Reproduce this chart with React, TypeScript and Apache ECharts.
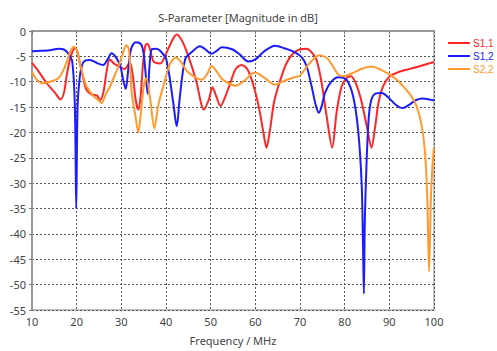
import React, { useEffect, useRef } from "react";
import * as echarts from "echarts";

const xTicks = [10, 20, 30, 40, 50, 60, 70, 80, 90, 100];
const yTicks = [0, -5, -10, -15, -20, -25, -30, -35, -40, -45, -50, -55];

const s11Freq = [10, 11.5, 13.3, 15, 16.4, 17.2, 17.8, 18.7, 19.6, 20.2, 20.7, 21.4, 22.2, 23.3, 24.5, 25.3, 26, 26.7, 27.4, 28.5, 30, 30.7, 31.9, 32.6, 33.2, 33.8, 34.3, 34.9, 35.4, 35.8, 36.4, 37.2, 38.7, 40, 41.3, 42.4, 43.8, 45.6, 46.8, 48.5, 49.6, 50.4, 51.3, 52.2, 53.2, 54.5, 55.6, 56.9, 58.2, 59.5, 60.8, 61.8, 62.5, 63.2, 64.2, 65.5, 67, 68.5, 70, 71.5, 72.7, 73.7, 74.8, 76, 77.2, 78.2, 79.3, 80.4, 81.4, 82.6, 83.8, 85, 86, 86.8, 87.6, 88.6, 90, 91.5, 93.5, 95.4, 97, 98.4, 100];
const s11Db = [-6.3, -8, -10.3, -12, -13.5, -12, -8.6, -5, -3.4, -4.2, -6.3, -9, -11.6, -12.5, -12.7, -13.6, -12, -8, -5.6, -6.5, -7.2, -7.5, -6.2, -9, -13.5, -15.5, -13, -6, -2.8, -2.5, -3.5, -6, -6.4, -4.5, -2, -0.7, -2.3, -6.5, -10, -15.5, -13.5, -11.1, -13, -14.8, -13.1, -10, -7.5, -6.7, -7.5, -10.5, -15, -20, -23, -20, -14, -9.9, -6.3, -4.4, -3.6, -3.5, -4.3, -5.7, -10, -17, -23, -16, -11, -9.3, -8.9, -10.5, -14, -19, -23, -19, -14, -10.9, -9, -8.3, -7.7, -7.3, -6.9, -6.5, -6.1];

const s12Freq = [10, 12, 14, 16, 17, 18, 19, 19.6, 19.9, 20.2, 20.7, 21.3, 22, 23, 24.5, 25.9, 27, 27.8, 28.8, 29.8, 30.5, 31, 31.5, 32.2, 33.2, 34.4, 35, 35.5, 35.9, 36.3, 36.8, 37.8, 38.8, 40.1, 41.6, 42.4, 43.1, 44.3, 45.7, 47.6, 48.8, 50.2, 51.2, 52.5, 54.8, 56.5, 58.4, 60, 62, 64.4, 66.5, 68.9, 70.5, 71.5, 72.6, 73.5, 74.2, 74.8, 75.6, 77.1, 78.6, 80.4, 81.9, 83, 83.8, 84.1, 84.3, 84.5, 84.9, 85.4, 86, 87, 88.3, 90, 91.5, 93, 94.5, 96, 97.5, 99, 100];
const s12Db = [-4.0, -3.9, -3.8, -3.5, -3.6, -4.3, -6, -15, -35, -15, -9, -6.5, -5.8, -5.7, -6.3, -6.7, -5.5, -4.4, -5.2, -7, -10, -11.4, -8, -3.5, -2.2, -2.6, -4.5, -9, -12.4, -7, -3.6, -3.5, -4, -5.7, -14, -18.8, -13, -5.5, -4.2, -3.0, -3.6, -4.5, -4, -3.2, -3.6, -4.6, -6.0, -5.6, -4, -2.9, -3.4, -4.2, -5.3, -7, -10.9, -14.5, -16.1, -15, -12.2, -9.9, -9.1, -9.6, -12.9, -19.4, -30, -42, -51.8, -38, -26, -17, -13.5, -12.3, -12.2, -13.3, -14.6, -15.2, -14.5, -13.6, -13.3, -13.5, -13.7];

const s22Freq = [10, 11, 12.2, 14, 15.9, 17, 17.8, 18.6, 19.4, 20, 20.7, 21.5, 22.2, 23.7, 24.7, 25.6, 26.5, 27.5, 28.4, 29.3, 30.3, 31.1, 31.7, 32.3, 33.2, 33.8, 34.4, 35, 35.6, 36.4, 37.4, 38.2, 39.2, 40.9, 42.2, 43.5, 45, 48, 49.2, 50.2, 51.2, 52.5, 54, 55.6, 57.5, 59.9, 62, 64.4, 66.5, 68.9, 70, 72, 74.3, 76.2, 78.6, 79.8, 82, 84, 86, 88, 90.1, 91.8, 93.1, 94.8, 96.1, 97.2, 98, 98.5, 98.9, 99.3, 99.7, 100];
const s22Db = [-8, -9.5, -10.3, -10, -9.3, -7.8, -6, -4, -3.1, -3.8, -6.3, -9, -10.9, -12.8, -13.5, -14.2, -12.5, -10.9, -9, -7.1, -4.5, -2.8, -3.6, -12, -17, -20, -16, -11, -9.3, -13, -19.2, -15, -11.5, -6.5, -5.2, -6.3, -8.2, -9.6, -8.5, -6.9, -7.8, -9.4, -10.3, -10.8, -9.8, -8.2, -9.2, -10.6, -9.8, -9.1, -8.8, -6.5, -4.8, -5.5, -8.6, -8.9, -8.2, -7.4, -7, -7.6, -8.6, -9.7, -10.9, -12.7, -14.8, -18.5, -24, -33, -47.4, -33, -26, -23];

const seriesNames = ["S1,1", "S1,2", "S2,2"];
const seriesColors = ["#ff2626", "#1c1cff", "#ff9a2e"];

const zip = (f: number[], v: number[]) => f.map((x, i) => [x, v[i]]);

export default function App() {
  const ref = useRef<HTMLDivElement>(null);
  useEffect(() => {
    document.body.style.margin = "0";
    if (!ref.current) return;
    const chart = echarts.init(ref.current, undefined, { renderer: "svg" });
    const font = "'Noto Sans', 'Open Sans', sans-serif";
    const datasets = [zip(s11Freq, s11Db), zip(s12Freq, s12Db), zip(s22Freq, s22Db)];
    chart.setOption({
      animation: false,
      backgroundColor: "#ffffff",
      title: {
        text: "S-Parameter [Magnitude in dB]",
        left: 233,
        textAlign: "center",
        top: 7,
        textStyle: { fontFamily: font, fontSize: 11, fontWeight: "normal", color: "#444" },
      },
      legend: {
        orient: "vertical",
        left: 443,
        top: 32,
        itemWidth: 22,
        itemHeight: 2,
        itemGap: 1,
        icon: "rect",
        data: seriesNames.map((n, i) => ({ name: n, textStyle: { color: seriesColors[i] } })),
        textStyle: { fontFamily: "'Liberation Sans', sans-serif", fontSize: 10, lineHeight: 12, padding: [0, 0, 0, -2] },
      },
      grid: {
        left: 32,
        right: 63,
        top: 31,
        bottom: 39,
        show: true,
        borderColor: "#b0b0b0",
        borderWidth: 1.5,
      },
      xAxis: {
        type: "value",
        min: xTicks[0],
        max: xTicks[xTicks.length - 1],
        interval: 10,
        name: "Frequency / MHz",
        nameLocation: "middle",
        nameGap: 25,
        nameTextStyle: { fontFamily: font, fontSize: 11, color: "#444" },
        axisLine: { show: true, lineStyle: { color: "#999", width: 2 } },
        axisTick: { show: true, length: 3, lineStyle: { color: "#777" } },
        axisLabel: { fontFamily: font, fontSize: 11, color: "#444", margin: 6 },
        splitLine: { show: true, lineStyle: { color: "#555", type: [2, 2], width: 1 } },
      },
      yAxis: {
        type: "value",
        min: yTicks[yTicks.length - 1],
        max: yTicks[0],
        interval: 5,
        axisLine: { show: true, lineStyle: { color: "#999", width: 2 } },
        axisTick: { show: true, length: 3, lineStyle: { color: "#777" } },
        axisLabel: { fontFamily: font, fontSize: 11, color: "#444", margin: 6 },
        splitLine: { show: true, lineStyle: { color: "#555", type: [2, 2], width: 1 } },
      },
      series: seriesNames.map((n, i) => ({
        name: n,
        type: "line",
        data: datasets[i],
        symbol: "none",
        smooth: 0.3,
        lineStyle: { color: seriesColors[i], width: 2 },
        itemStyle: { color: seriesColors[i] },
      })),
    });
    return () => chart.dispose();
  }, []);
  return <div ref={ref} style={{ width: 497, height: 351 }} />;
}
